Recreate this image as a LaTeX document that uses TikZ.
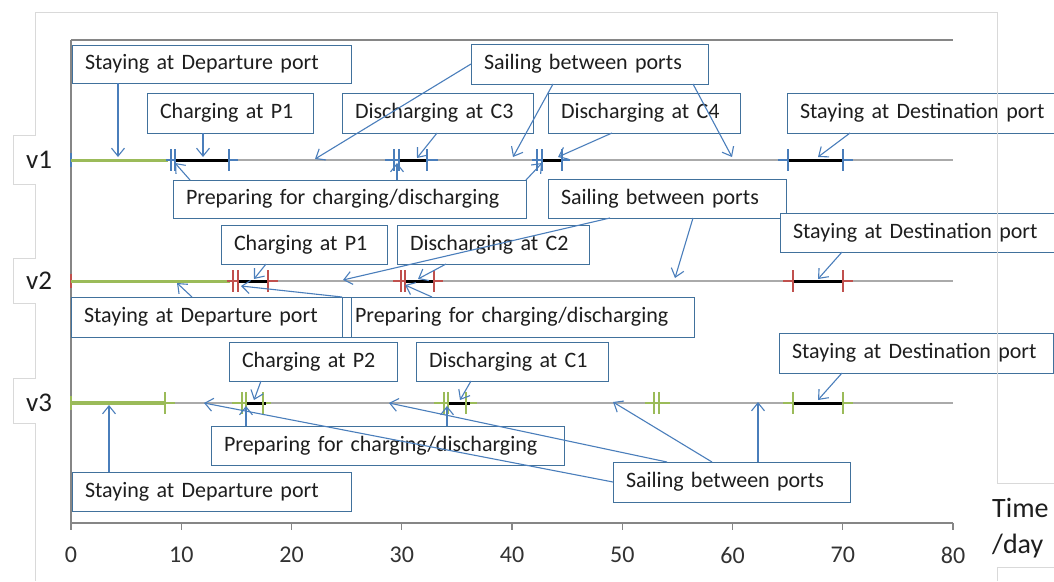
\documentclass[tikz,border=0pt]{standalone}
\usepackage{fontspec}
\setmainfont{Carlito}
\usetikzlibrary{arrows.meta,calc}
\definecolor{boxblue}{RGB}{65,113,156}
\definecolor{arrblue}{RGB}{74,126,187}
\definecolor{vblue}{RGB}{74,126,187}
\definecolor{vred}{RGB}{192,80,77}
\definecolor{vgreen}{RGB}{155,187,89}
\definecolor{rowgray}{RGB}{170,170,170}
\definecolor{axisgray}{RGB}{134,134,134}
\definecolor{framegray}{RGB}{217,217,217}
\definecolor{txtc}{RGB}{30,30,30}
\definecolor{labc}{RGB}{50,50,50}
\newcommand\callout[6]{%
  \pgfmathsetmacro\cw{#4-#2-26}\pgfmathsetmacro\ch{#5-#3}%
  \node[callbox, text width=\cw pt, minimum height=\ch pt] (#1) at (#2,#3) {#6};}
\newcommand\evseg[7]{%
  \draw[#1, line width=2pt] (#3,#2) -- (#4,#2);
  \draw[black, line width=3pt] (#5,#2) -- (#6,#2);
  \foreach \t in {#7} \draw[#1, line width=2pt] (\t,{#2-11}) -- (\t,{#2+11});}
\begin{document}
\begin{tikzpicture}[x=1pt,y=-1pt,
  callbox/.style={draw=boxblue, line width=1pt, fill=white, anchor=north west,
    inner xsep=13pt, inner ysep=0pt, outer sep=0pt, align=left, text=txtc,
    font=\fontsize{22}{26}\selectfont},
  conn/.style={draw=arrblue, line width=1.1pt, -{Straight Barb[length=8pt,width=13pt]}},
  ticklab/.style={text=labc, font=\fontsize{24}{28}\selectfont, inner sep=0pt},
  rowlab/.style={text=txtc, font=\fontsize{27}{30}\selectfont, inner sep=0pt},
  ]
\useasboundingbox (0,0) rectangle (1054,581);
\clip (0,0) rectangle (1054,581);
\fill[white] (0,0) rectangle (1054,581);

% plot area
\draw[axisgray, line width=1.2pt] (71,40) -- (953,40);
\draw[axisgray, line width=1.5pt] (71,40) -- (71,530);
\draw[axisgray, line width=1.5pt] (71,523) -- (953,523);
\foreach \i in {1,...,8} \draw[axisgray, line width=1.2pt] ({71+110.25*\i},523) -- ({71+110.25*\i},530);
\foreach \i in {0,...,8} {\pgfmathtruncatemacro\lab{\i*10}
  \node[ticklab] (xl\i) at ({71+110.25*\i},555) {\lab};}
\node[text=txtc, font=\fontsize{28}{32}\selectfont, inner sep=0pt, anchor=west] (tlab1) at (992,508) {Time};
\node[text=txtc, font=\fontsize{28}{32}\selectfont, inner sep=0pt, anchor=west] (tlab2) at (992,546) {/day};

% row base lines
\foreach \y in {160,281,403} \draw[rowgray, line width=1.6pt] (71,\y) -- (953,\y);

% v1
\draw[vblue, line width=2pt] (71,153) -- (71,167);
\draw[vgreen, line width=3pt] (71,160) -- (168,160);
\evseg{vblue}{160}{166}{238}{175}{229}{171,175,229}
\evseg{vblue}{160}{385}{438}{399}{427}{394,399,427}
\evseg{vblue}{160}{532}{570}{542}{562}{537,542,562}
\evseg{vblue}{160}{778}{853}{788}{843}{788,843}
% v2
\draw[vred, line width=2pt] (71,274) -- (71,288);
\draw[vgreen, line width=3pt] (71,281) -- (230,281);
\evseg{vred}{281}{227}{278}{238}{268}{233,238,268}
\evseg{vred}{281}{393}{443}{405}{434}{401,405,434}
\evseg{vred}{281}{783}{853}{793}{843}{793,843}
% v3
\draw[vgreen, line width=2pt] (71,396) -- (71,410);
\draw[vgreen, line width=4pt] (71,403) -- (165,403);
\draw[vgreen, line width=2pt] (165,403) -- (175,403);
\draw[vgreen, line width=2pt] (165,392) -- (165,414);
\evseg{vgreen}{403}{232}{271}{246}{266}{242,246,263}
\evseg{vgreen}{403}{434}{477}{448}{470}{444,448,466}
\draw[vgreen, line width=2pt] (645,403) -- (670,403);
\foreach \t in {654,659} \draw[vgreen, line width=2pt] (\t,392) -- (\t,414);
\evseg{vgreen}{403}{783}{853}{793}{843}{793,843}

% row labels
\node[rowlab] (v1) at (39,160) {v1};
\node[rowlab] (v2) at (39,281) {v2};
\node[rowlab] (v3) at (39,403) {v3};

% callout boxes
\callout{b1}{72}{45}{351}{83}{Staying at Departure port}
\callout{b2}{147}{93}{313}{133}{Charging at P1}
\callout{b3}{342}{93}{533}{133}{Discharging at C3}
\callout{b4}{471}{44}{708}{84}{Sailing between ports}
\callout{b5}{548}{93}{740}{133}{Discharging at C4}
\callout{b6}{787}{93}{1075}{133}{Staying at Destination port}
\callout{b7}{173}{180}{526}{218}{Preparing for charging/discharging}
\callout{b8}{548}{179}{786}{218}{Sailing between ports}
\callout{b9}{221}{225}{387}{264}{Charging at P1}
\callout{b10}{397}{225}{589}{264}{Discharging at C2}
\callout{b11}{780}{213}{1075}{252}{Staying at Destination port}
\callout{b14}{342}{297}{694}{337}{Preparing for charging/discharging}
\node[draw=boxblue, line width=1pt, outer sep=0pt, inner sep=0pt, minimum width=9pt, minimum height=40pt, anchor=north west] (b13) at (342,297) {};
\callout{b12}{71}{297}{342}{337}{Staying at Departure port}
\callout{b15}{229}{342}{397}{381}{Charging at P2}
\callout{b16}{416}{342}{608}{381}{Discharging at C1}
\callout{b17}{779}{333}{1053}{373}{Staying at Destination port}
\callout{b18}{211}{426}{564}{465}{Preparing for charging/discharging}
\callout{b19}{72}{472}{351}{511}{Staying at Departure port}
\callout{b20}{613}{462}{850}{502}{Sailing between ports}

% arrow tips
\coordinate (t1) at (118,157);
\coordinate (t2) at (203,157);
\coordinate (t3) at (417,158);
\coordinate (t4a) at (315,159);
\coordinate (t4b) at (513,157);
\coordinate (t4c) at (732,157);
\coordinate (t5) at (558,157);
\coordinate (t6) at (818,157);
\coordinate (t7a) at (175,163);
\coordinate (t7b) at (397,163);
\coordinate (t7c) at (542,163);
\coordinate (t8a) at (343,280);
\coordinate (t8b) at (675,278);
\coordinate (t9) at (254,279);
\coordinate (t10) at (418,279);
\coordinate (t11) at (818,279);
\coordinate (t12) at (177,283);
\coordinate (t14a) at (241,286);
\coordinate (t14b) at (405,285);
\coordinate (t15) at (254,400);
\coordinate (t16) at (460,400);
\coordinate (t17) at (818,400);
\coordinate (t18a) at (246,406);
\coordinate (t18b) at (447,406);
\coordinate (t19) at (109,405);
\coordinate (t20a) at (204,403);
\coordinate (t20b) at (389,403);
\coordinate (t20c) at (613,402);
\coordinate (t20d) at (758,402);

% connectors
\draw[conn] (b1.south -| t1) -- (t1);
\draw[conn] (b2.south -| t2) -- (t2);
\draw[conn] ($(b3.south west)+(95,0)$) -- (t3);
\draw[conn] (b4.west) -- (t4a);
\draw[conn] ($(b4.south west)+(82,0)$) -- (t4b);
\draw[conn] ($(b4.south west)+(222,0)$) -- (t4c);
\draw[conn] ($(b5.south west)+(64,0)$) -- (t5);
\draw[conn] ($(b6.south west)+(63,0)$) -- (t6);
\draw[conn] ($(b7.north west)+(17,0)$) -- (t7a);
\draw[conn] (b7.north -| t7b) -- (t7b);
\draw[conn] (b7.north east) -- (t7c);
\draw[conn] ($(b8.south west)+(62,0)$) -- (t8a);
\draw[conn] ($(b8.south west)+(145,0)$) -- (t8b);
\draw[conn] ($(b9.south west)+(45,0)$) -- (t9);
\draw[conn] ($(b10.south west)+(49,0)$) -- (t10);
\draw[conn] ($(b11.south west)+(62,0)$) -- (t11);
\draw[conn] ($(b12.north west)+(121,0)$) -- (t12);
\draw[conn] (b14.north west) -- (t14a);
\draw[conn] ($(b14.north west)+(90,0)$) -- (t14b);
\draw[conn] ($(b15.south west)+(32,0)$) -- (t15);
\draw[conn] ($(b16.south west)+(55,0)$) -- (t16);
\draw[conn] ($(b17.south west)+(63,0)$) -- (t17);
\draw[conn] (b18.north -| t18a) -- (t18a);
\draw[conn] (b18.north -| t18b) -- (t18b);
\draw[conn] (b19.north -| t19) -- (t19);
\draw[conn] (b20.west) -- (t20a);
\draw[conn] ($(b20.north west)+(54,0)$) -- (t20b);
\draw[conn] ($(b20.north west)+(99,0)$) -- (t20c);
\draw[conn] (b20.north -| t20d) -- (t20d);

% outer chart frame
\draw[framegray, line width=1pt] (1054,483) -- (997,483) -- (997,12) -- (35,12) -- (35,135) -- (13,135) -- (13,184) -- (35,184)
  -- (35,258) -- (13,258) -- (13,303) -- (35,303) -- (35,378) -- (13,378) -- (13,423) -- (35,423) -- (35,581);
\draw[framegray, line width=1pt] (1054,567) -- (997,567) -- (997,581);
\end{tikzpicture}
\end{document}
